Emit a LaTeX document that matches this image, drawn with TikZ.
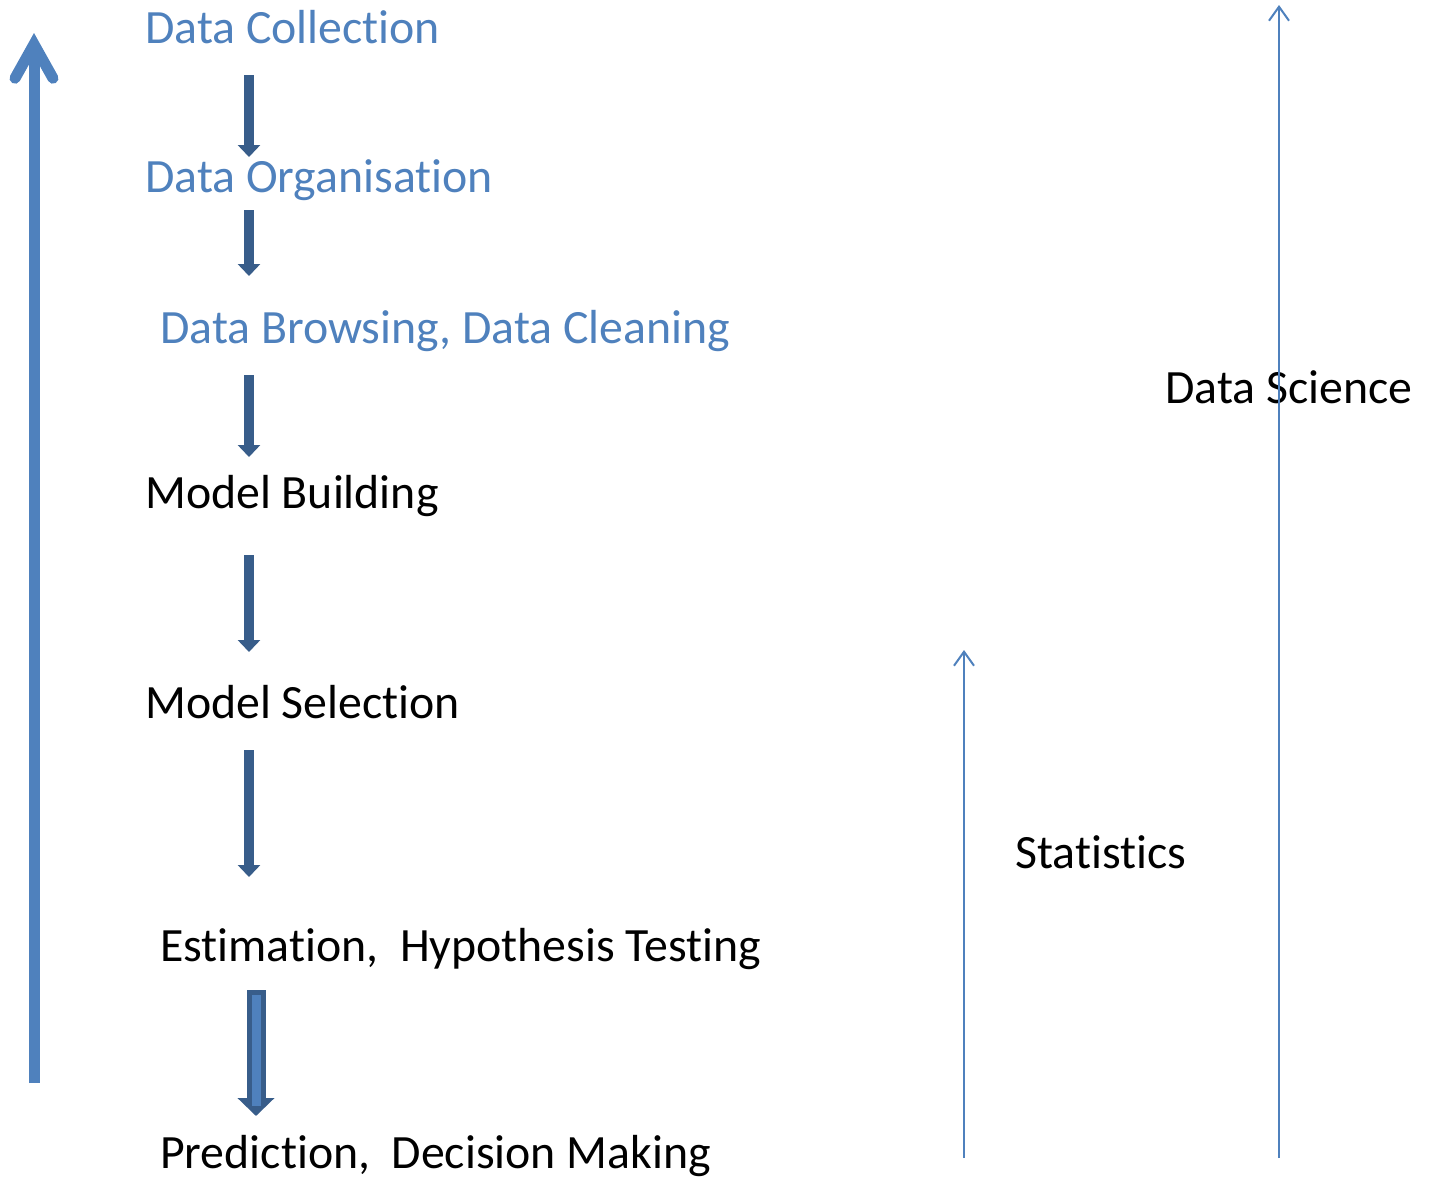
\documentclass[tikz,border=0pt]{standalone}
\usepackage{fontspec}
\setmainfont{Carlito}[Ligatures=NoCommon]
\usetikzlibrary{arrows.meta}
\definecolor{officeblue}{RGB}{79,129,189}
\definecolor{darkblue}{RGB}{56,93,138}
\tikzset{
  stage/.style={anchor=base west,inner sep=0pt,font=\fontsize{47.8bp}{56bp}\selectfont},
  flowarrow/.style={line width=10bp,darkblue,-{Triangle[width=22bp,length=12bp]}},
  axisarrow/.style={line width=2bp,officeblue,-{Straight Barb[length=14bp,width=20bp]}}
}
\begin{document}
\begin{tikzpicture}[x=1bp,y=-1bp]
\useasboundingbox (0,0) rectangle (1430,1177);

% the steps
\node (collect) at (145,43)[stage,officeblue] {Data Collection};
\node (organise) at (145,192)[stage,officeblue] {Data Organisation};
\node (clean) at (160,343)[stage,officeblue] {Data Browsing, Data Cleaning};
\node (build) at (145,508)[stage] {Model Building};
\node (select) at (145,718)[stage] {Model Selection};
\node (estimate) at (160,961)[stage] {Estimation,\ \ Hypothesis Testing};
\node (predict) at (160,1168)[stage] {Prediction,\ \ Decision Making};
\node (science) at (1165,403)[stage] {Data Science};
\node (stats) at (1015,868)[stage] {Statistics};

% block arrows between the steps
\coordinate (a1) at (249,75);  \coordinate (b1) at (249,157);
\coordinate (a2) at (249,210); \coordinate (b2) at (249,276);
\coordinate (a3) at (249,375); \coordinate (b3) at (249,457);
\coordinate (a4) at (249,555); \coordinate (b4) at (249,652);
\coordinate (a5) at (249,750); \coordinate (b5) at (249,877);
\draw [flowarrow] (a1) -- (b1);
\draw [flowarrow] (a2) -- (b2);
\draw [flowarrow] (a3) -- (b3);
\draw [flowarrow] (a4) -- (b4);
\draw [flowarrow] (a5) -- (b5);

% last one has a lighter core
\coordinate (a6) at (256,990); \coordinate (b6) at (256,1116);
\coordinate (c6) at (256,995); \coordinate (d6) at (256,1106);
\draw [darkblue,line width=19bp,-{Triangle[width=36bp,length=18bp]}] (a6) -- (b6);
\draw [officeblue,line width=9bp] (c6) -- (d6);

% big arrow on the left
\coordinate (low) at (34,1083); \coordinate (top) at (34,33);
\draw [officeblue,line width=11bp,-{Straight Barb[line cap=round,length=34bp,width=38bp]}] (low) -- (top);

% statistics and data science ranges
\coordinate (statlow) at (964,1158); \coordinate (stattop) at (964,650);
\coordinate (scilow) at (1279,1158); \coordinate (scitop) at (1279,5);
\draw [axisarrow] (statlow) -- (stattop);
\draw [axisarrow] (scilow) -- (scitop);
\end{tikzpicture}
\end{document}
